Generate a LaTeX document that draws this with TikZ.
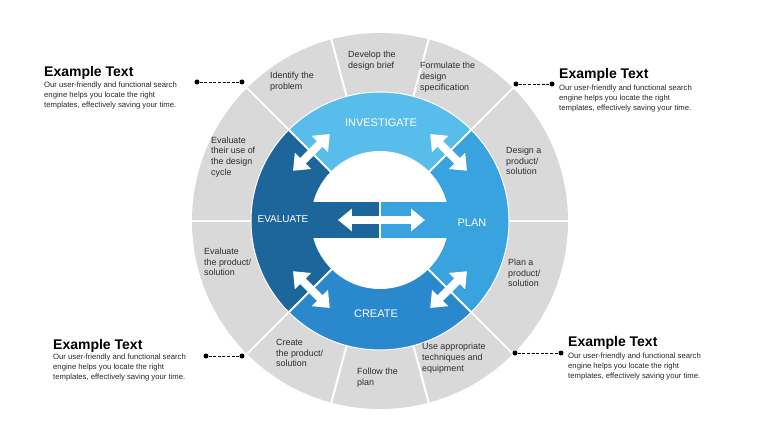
\documentclass[tikz,border=0pt]{standalone}
\usepackage{fontspec}
\setmainfont{Liberation Sans}
\usetikzlibrary{arrows.meta,calc}
\definecolor{RingGray}{RGB}{217,217,217}
\definecolor{InvBlue}{RGB}{89,189,235}
\definecolor{PlanBlue}{RGB}{56,163,222}
\definecolor{CreateBlue}{RGB}{42,136,205}
\definecolor{EvalBlue}{RGB}{29,102,156}
\definecolor{LabelGray}{RGB}{45,45,45}
\tikzset{
  divline/.style={draw=white,line width=2pt},
  dblarrow/.style={draw=white,line width=8pt,
    {Triangle[width=22pt,length=14pt]}-{Triangle[width=22pt,length=14pt]}},
  phaselbl/.style={text=white,font=\fontsize{11}{13}\selectfont,inner sep=0pt},
  steplbl/.style={text=LabelGray,font=\fontsize{8.9}{10.8}\selectfont,
    align=left,anchor=west,inner sep=0pt},
  calhead/.style={font=\bfseries\fontsize{14}{16}\selectfont,anchor=west,inner sep=0pt},
  calbody/.style={text=black!85,font=\fontsize{7.7}{10}\selectfont,
    align=left,anchor=west,inner sep=0pt},
  enddot/.style={circle,fill=black,inner sep=0pt,minimum size=5pt},
  leader/.style={draw=black,line width=0.9pt,dash pattern=on 3pt off 1.6pt},
}

\begin{document}
\begin{tikzpicture}[x=1pt,y=1pt]
  \useasboundingbox (-380,-207) rectangle (380,221);
  \coordinate (c) at (0,0);

  % outer ring of steps
  \fill[RingGray] (c) circle (188);
  \foreach \a in {0,45,75,105,135,180,225,255,285,315}
    \draw[divline] (\a:129) -- (\a:189);

  % four phases
  \fill[InvBlue] (c) -- (45:129) arc (45:135:129) -- cycle;
  \fill[EvalBlue] (c) -- (135:129) arc (135:225:129) -- cycle;
  \fill[CreateBlue] (c) -- (225:129) arc (225:315:129) -- cycle;
  \fill[PlanBlue] (c) -- (-45:129) arc (-45:45:129) -- cycle;
  \draw[white,line width=1pt] (c) circle (129);
  \foreach \a in {45,135,225,315}
    \draw[divline] (c) -- (\a:129);

  % centre
  \fill[white] (0,1) circle (69);
  \fill[EvalBlue] (-72,-17) rectangle (0,19);
  \fill[PlanBlue] (0,-17) rectangle (72,19);
  \draw[white,line width=1.5pt] (0,-17) -- (0,19);
  \draw[dblarrow] (-42,1) -- (45,1);
  \foreach \a in {45,135,225,315}
    \draw[dblarrow] ($(\a:97)+(\a+90:26)$) -- ($(\a:97)+(\a-90:26)$);

  \node[phaselbl] (inv) at (1,98) {INVESTIGATE};
  \node[phaselbl] (pln) at (92,-2) {PLAN};
  \node[phaselbl] (cre) at (-4,-93) {CREATE};
  \node[phaselbl,font=\fontsize{10}{12}\selectfont] (evl) at (-97,2) {EVALUATE};

  % steps
  \node[steplbl] (s1) at (-110,139) {Identify the\\problem};
  \node[steplbl] (s2) at (-32,160) {Develop the\\design brief};
  \node[steplbl] (s3) at (40,144) {Formulate the\\design\\specification};
  \node[steplbl] (s4) at (126,60) {Design a\\product/\\solution};
  \node[steplbl] (s5) at (128,-52) {Plan a\\product/\\solution};
  \node[steplbl] (s6) at (42,-137) {Use appropriate\\techniques and\\equipment};
  \node[steplbl] (s7) at (-23,-157) {Follow the\\plan};
  \node[steplbl] (s8) at (-104,-132) {Create\\the product/\\solution};
  \node[steplbl] (s9) at (-176,-41) {Evaluate\\the product/\\solution};
  \node[steplbl] (s10) at (-169,64) {Evaluate\\their use of\\the design\\cycle};

  % callouts
  \node[calhead] (h1) at (-336,148) {Example Text};
  \node[calbody] (b1) at (-336,125) {Our user-friendly and functional search\\engine helps you locate the right\\templates, effectively saving your time.};
  \node[enddot] (d1a) at (-183,139) {};
  \node[enddot] (d1b) at (-138,139) {};
  \draw[leader] (d1a) -- (d1b);

  \node[calhead] (h2) at (179,146) {Example Text};
  \node[calbody] (b2) at (179,122) {Our user-friendly and functional search\\engine helps you locate the right\\templates, effectively saving your time.};
  \node[enddot] (d2a) at (136,137) {};
  \node[enddot] (d2b) at (172,137) {};
  \draw[leader] (d2a) -- (d2b);

  \node[calhead] (h3) at (-327,-125) {Example Text};
  \node[calbody] (b3) at (-327,-147) {Our user-friendly and functional search\\engine helps you locate the right\\templates, effectively saving your time.};
  \node[enddot] (d3a) at (-174,-135) {};
  \node[enddot] (d3b) at (-138,-135) {};
  \draw[leader] (d3a) -- (d3b);

  \node[calhead] (h4) at (188,-122) {Example Text};
  \node[calbody] (b4) at (188,-146) {Our user-friendly and functional search\\engine helps you locate the right\\templates, effectively saving your time.};
  \node[enddot] (d4a) at (135,-132) {};
  \node[enddot] (d4b) at (181,-132) {};
  \draw[leader] (d4a) -- (d4b);
\end{tikzpicture}
\end{document}
